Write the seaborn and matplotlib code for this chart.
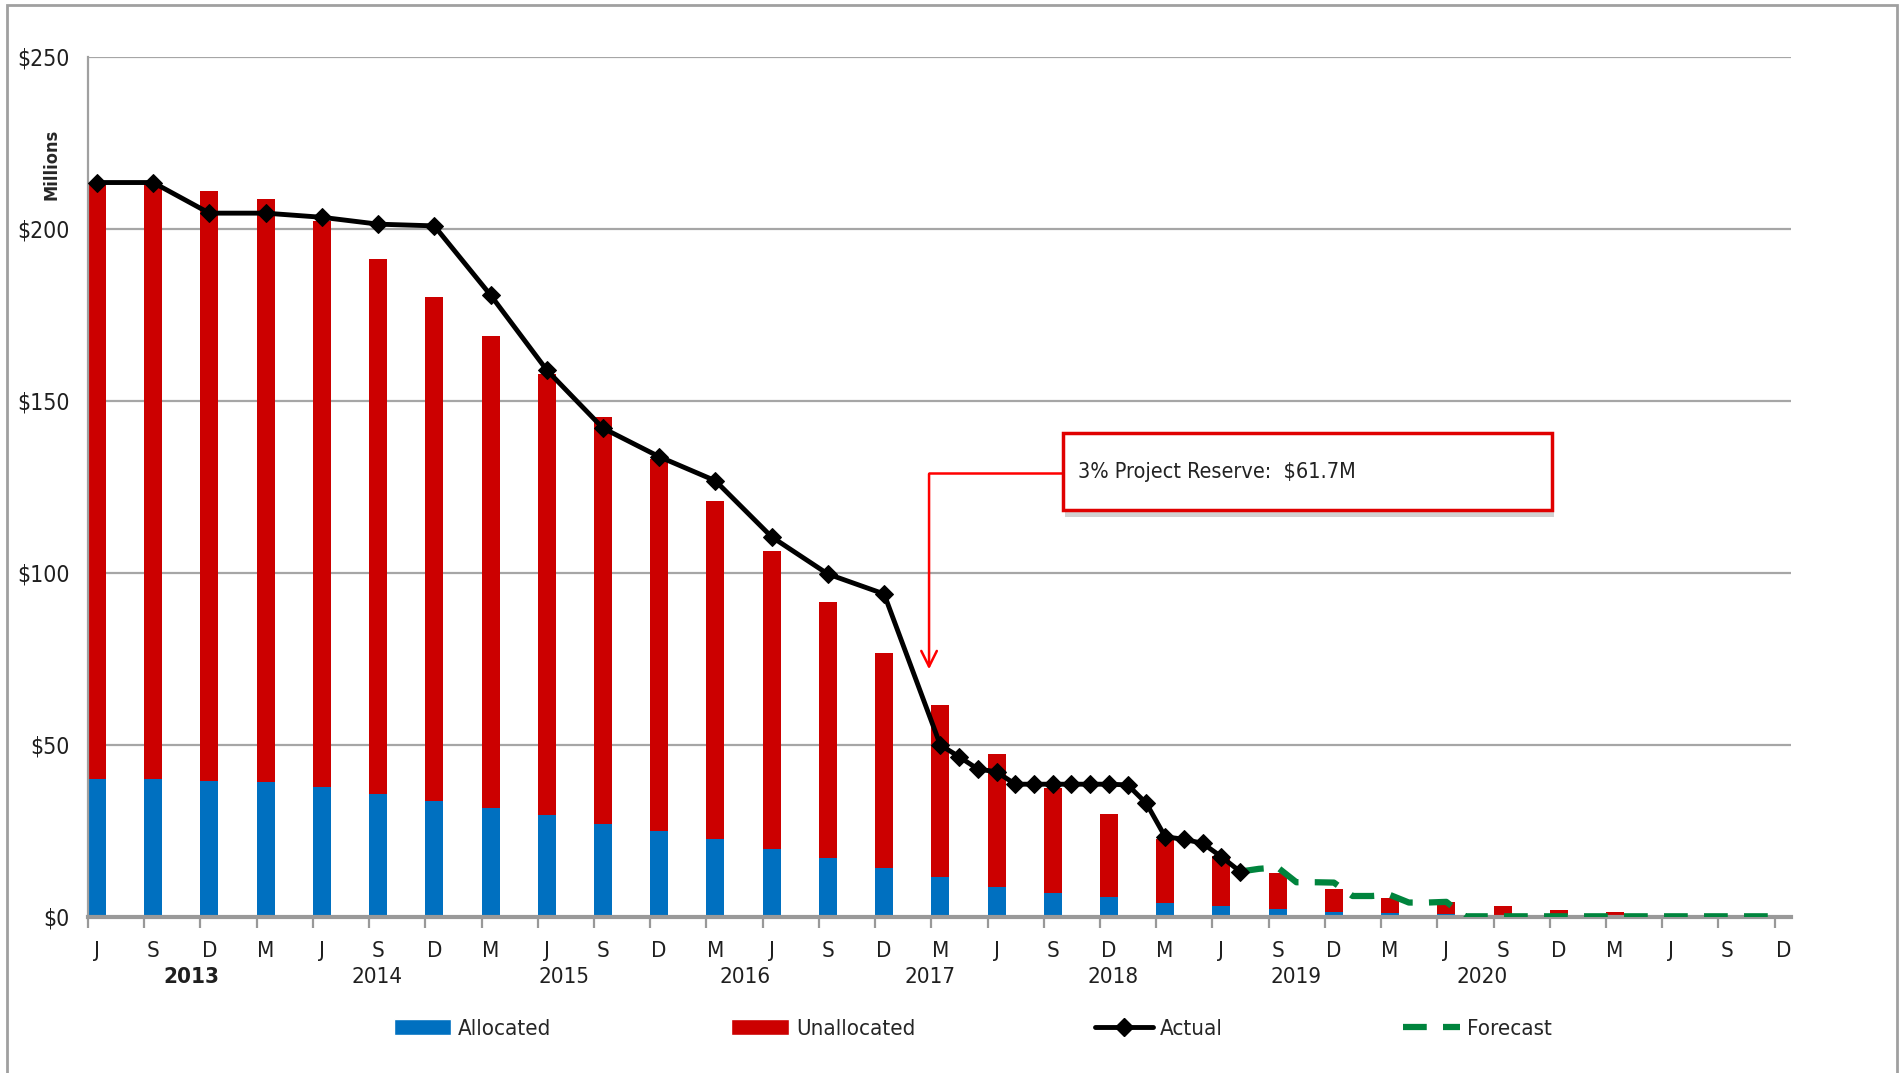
import numpy as np
import pandas as pd
import matplotlib
matplotlib.use('Agg')
import matplotlib.pyplot as plt
from matplotlib.patches import Rectangle, Patch
from matplotlib.lines import Line2D
import seaborn as sns

sns.set_style('white')
plt.rcParams['font.family'] = ['DejaVu Sans']
plt.rcParams['font.stretch'] = 'condensed'

# quarterly categories (Jun 2013 .. Dec 2020)
quarter_labels = ['J', 'S', 'D', 'M'] * 7 + ['J', 'S', 'D']
year_labels = ['2013', '2014', '2015', '2016', '2017', '2018', '2019', '2020']
year_pos = [1.68, 4.98, 8.30, 11.53, 14.82, 18.08, 21.32, 24.63]

allocated = [40.0, 40.0, 39.5, 39.1, 37.9, 35.8, 33.6, 31.7, 29.6, 27.1, 25.0,
             22.6, 19.9, 17.1, 14.2, 11.5, 8.8, 7.1, 5.7, 4.2, 3.3, 2.4, 1.5,
             1.1, 0.8, 0.3, 0.2, 0.1, 0.1, 0.0, 0.0]
unallocated = [173.3, 173.3, 171.5, 169.5, 164.4, 155.4, 146.5, 137.3, 128.2,
               118.3, 108.1, 98.3, 86.5, 74.6, 62.6, 50.2, 38.5, 30.5, 24.3,
               18.5, 14.4, 10.5, 6.5, 4.3, 3.6, 2.9, 1.7, 1.4, 0.6, 0.4, 0.3]

# actual / forecast, month index from Jun 2013
actual_month = list(range(0, 46, 3)) + list(range(46, 62))
actual = [213.5, 213.5, 204.6, 204.6, 203.4, 201.4, 200.9, 180.8, 159.0, 142.1,
          133.8, 126.8, 110.5, 99.7, 93.9, 50.0,
          46.6, 43.0, 42.2, 38.6, 38.6, 38.6, 38.6, 38.6, 38.6, 38.4, 33.0,
          23.3, 22.6, 21.4, 17.5, 13.2]
forecast_month = list(range(61, 91))
forecast = [13.2, 14.0, 14.4, 10.1, 10.1, 10.0, 6.1, 6.1, 6.4, 4.2, 4.2, 4.4,
            0.2, 0.2, 0.2, 0.2, 0.2, 0.2, 0.2, 0.2, 0.2, 0.2, 0.2, 0.2, 0.2,
            0.2, 0.2, 0.2, 0.2, 0.2]

BLUE = '#0070C0'
RED = '#CC0000'
GREEN = '#00843D'

df = pd.DataFrame({'pos': range(len(allocated)),
                   'allocated': allocated,
                   'unallocated': unallocated})
df['total'] = df['allocated'] + df['unallocated']
act = pd.DataFrame({'q': np.array(actual_month) / 3, 'v': actual})
fc = pd.DataFrame({'q': np.array(forecast_month) / 3, 'v': forecast})

fig = plt.figure(figsize=(19, 10.73), dpi=100)
ax = fig.add_axes([0.0463, 0.1454, 0.8963, 0.8015])

sns.barplot(data=df, x='pos', y='total', native_scale=True, width=0.32,
            color=RED, saturation=1, linewidth=0, ax=ax)
sns.barplot(data=df, x='pos', y='allocated', native_scale=True, width=0.32,
            color=BLUE, saturation=1, linewidth=0, ax=ax)
sns.lineplot(data=fc, x='q', y='v', color=GREEN, lw=4.5,
             linestyle=(0, (3.8, 2.6)), ax=ax, zorder=4)
sns.lineplot(data=act, x='q', y='v', color='black', lw=3.5, marker='D',
             markersize=9, markeredgecolor='black', ax=ax, zorder=5)

ax.set_xlim(-0.16, 30.13)
ax.set_ylim(0, 250)
ax.set_xlabel('')
ax.set_ylabel('')
ax.set_yticks(range(0, 251, 50))
ax.set_yticklabels(['$' + str(v) for v in range(0, 251, 50)])
ax.yaxis.grid(True, color='#A6A6A6', lw=1.6)
ax.xaxis.grid(False)
ax.set_axisbelow(True)

ax.set_xticks(np.arange(31) - 0.16)
ax.set_xticklabels([])
ax.set_xticks(np.arange(31), minor=True)
ax.set_xticklabels(quarter_labels, minor=True)
ax.tick_params(axis='x', which='major', length=8, width=1.6, color='#999999',
               direction='out', bottom=True)
ax.tick_params(axis='x', which='minor', length=0, pad=17, labelsize=16,
               colors='#1F1F1F', bottom=True)
ax.tick_params(axis='y', length=0, labelsize=16.5, pad=13, colors='#1F1F1F')

for s in ['top', 'right']:
    ax.spines[s].set_visible(False)
ax.spines['left'].set_color('#A0A0A0')
ax.spines['left'].set_linewidth(1.6)
ax.spines['bottom'].set_color('#999999')
ax.spines['bottom'].set_linewidth(3)

for lab, p in zip(year_labels, year_pos):
    ax.text(p, -0.07, lab, transform=ax.get_xaxis_transform(), ha='center',
            va='center', fontsize=16, color='#1F1F1F',
            fontweight='bold' if lab == '2013' else 'normal')

fig.text(51 / 1900, 1 - 164 / 1073, 'Millions', rotation=90, ha='center',
         va='center', fontsize=13, fontweight='bold')

# reserve call-out
ax.add_patch(Rectangle((17.22, 116.4), 8.7, 22.4, facecolor='#9A9A9A',
                       edgecolor='none', alpha=0.45, zorder=6))
ax.add_patch(Rectangle((17.18, 118.3), 8.7, 22.4, facecolor='white',
                       edgecolor='#E00000', lw=2.5, zorder=7))
ax.text(17.45, 129.5, '3% Project Reserve:  $61.7M', fontsize=15.5,
        va='center', ha='left', color='#222222', zorder=8)
ax.plot([17.18, 14.8], [129.2, 129.2], color='#FF0000', lw=1.8, zorder=6)
ax.annotate('', xy=(14.8, 71.2), xytext=(14.8, 129.6),
            arrowprops=dict(arrowstyle='->', color='#FF0000', lw=1.8,
                            mutation_scale=28), zorder=6)

handles = [Patch(facecolor=BLUE), Patch(facecolor=RED),
           Line2D([], [], color='black', lw=3.5, marker='D', markersize=9),
           Line2D([], [], color=GREEN, lw=4.5, linestyle=(0, (3.8, 2.6)))]
fig.legend(handles, ['Allocated', 'Unallocated', 'Actual', 'Forecast'],
           loc='center', bbox_to_anchor=(0.512, 0.041), ncol=4,
           frameon=False, fontsize=16, columnspacing=8.1, handlelength=2.6,
           handletextpad=0.3)

fig.patches.append(Rectangle((0.0037, -0.01), 0.9947, 1.0053,
                             transform=fig.transFigure, fill=False,
                             edgecolor='#A0A0A0', lw=2))

fig.savefig('out.png', dpi=100)
